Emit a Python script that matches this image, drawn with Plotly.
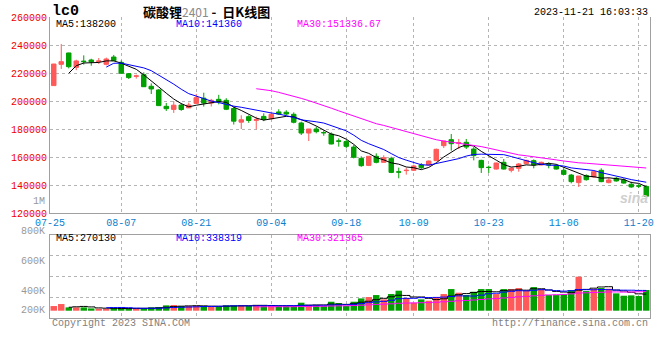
import plotly.graph_objects as go

# ---------------- data ----------------
dates = ["07-25", "07-26", "07-27", "07-28", "07-31",
         "08-01", "08-02", "08-03", "08-04", "08-07", "08-08", "08-09", "08-10", "08-11",
         "08-14", "08-15", "08-16", "08-17", "08-18", "08-21", "08-22", "08-23", "08-24", "08-25",
         "08-28", "08-29", "08-30", "08-31", "09-01", "09-04", "09-05", "09-06", "09-07", "09-08",
         "09-11", "09-12", "09-13", "09-14", "09-15", "09-18", "09-19", "09-20", "09-21", "09-22",
         "09-25", "09-26", "09-27", "09-28", "10-09", "10-10", "10-11", "10-12", "10-13",
         "10-16", "10-17", "10-18", "10-19", "10-20", "10-23", "10-24", "10-25", "10-26", "10-27",
         "10-30", "10-31", "11-01", "11-02", "11-03", "11-06", "11-07", "11-08", "11-09", "11-10",
         "11-13", "11-14", "11-15", "11-16", "11-17", "11-20", "11-21"]

open_ = [211000, 226200, 234300, 224000, 228500, 229300, 228200, 226200, 231400, 227600,
         219500, 217700, 218800, 210500, 207900, 196200, 194000, 197100, 195100, 198300,
         202000, 198500, 201200, 200500, 194600, 184900, 188800, 186200, 189000, 187300,
         192200, 192000, 190500, 184300, 177100, 180000, 177500, 176400, 171500, 171000,
         167100, 159000, 154000, 160500, 156200, 159000, 149400, 150300, 150500, 154300,
         154300, 157400, 168100, 172400, 169800, 170500, 165700, 157600, 152700, 151400,
         156200, 150500, 151900, 155200, 157400, 154300, 154500, 153800, 150500, 147100,
         141700, 146700, 145700, 150500, 141700, 144800, 143600, 140500, 139400, 139000]
high = [226500, 240700, 234500, 229500, 232600, 230200, 230700, 231000, 232900, 229000,
        220000, 218800, 220500, 212600, 208500, 198600, 200000, 198500, 198800, 205100,
        205900, 201500, 204400, 202000, 195900, 189800, 189800, 188800, 191200, 192400,
        194100, 193400, 191900, 185200, 180000, 181700, 179000, 177600, 173300, 172100,
        168600, 160500, 160500, 162600, 161200, 160200, 152400, 152400, 154500, 155700,
        157500, 166000, 171500, 176400, 172900, 172900, 167100, 158000, 153800, 156000,
        158600, 152100, 155700, 158000, 158300, 156700, 156200, 154800, 151900, 147900,
        146400, 147600, 150500, 151900, 145200, 145700, 144800, 142400, 140700, 139500]
low = [210900, 222900, 223300, 222000, 226000, 225200, 226400, 225500, 228600, 219600,
       215700, 216000, 210000, 205000, 196500, 192900, 191500, 193000, 195000, 198000,
       196000, 196100, 197600, 193500, 183200, 180000, 184400, 179800, 185600, 187000,
       190000, 190000, 184000, 175700, 171400, 176900, 175200, 169000, 167400, 166200,
       159000, 153000, 153500, 155500, 156000, 148500, 144800, 147400, 150000, 151400,
       154000, 157000, 166400, 164500, 165700, 165700, 157600, 148600, 148600, 151000,
       151000, 149000, 149500, 154800, 151900, 154000, 151900, 151000, 147200, 141200,
       138600, 143100, 145000, 142000, 141200, 142400, 141000, 138000, 137800, 131600]
close = [226400, 228100, 224500, 228600, 228100, 227900, 228600, 230000, 228800, 219800,
         216700, 217900, 210200, 208600, 196700, 194500, 197000, 193900, 197100, 202400,
         198500, 200500, 199500, 194100, 185600, 186600, 186100, 186600, 186800, 190500,
         190700, 190700, 184800, 177100, 180000, 178100, 177300, 169300, 171300, 167600,
         159800, 153800, 160500, 156200, 159500, 149000, 149200, 150500, 153600, 152400,
         157100, 165500, 171400, 169500, 170200, 167100, 161000, 152400, 152500, 155700,
         151400, 152100, 155000, 157600, 154300, 156200, 154300, 151400, 147600, 142400,
         146400, 143800, 149500, 142400, 143600, 142900, 141400, 138600, 139200, 132000]
volume = [77000, 110000, 55000, 55000, 55000, 38000, 28000, 33000, 44000, 38000,
          38000, 38000, 38000, 55000, 60000, 88000, 94000, 77000, 77000, 77000,
          77000, 66000, 66000, 88000, 88000, 94000, 77000, 94000, 88000, 77000,
          77000, 77000, 77000, 132000, 94000, 94000, 77000, 148000, 126000, 77000,
          148000, 203000, 225000, 258000, 187000, 275000, 330000, 209000, 132000, 187000,
          165000, 225000, 275000, 357000, 297000, 258000, 313000, 357000, 357000, 275000,
          357000, 357000, 374000, 330000, 390000, 357000, 258000, 258000, 275000, 341000,
          561000, 324000, 357000, 374000, 363000, 286000, 247000, 253000, 242000, 341000]
# the two sessions before 07-25 (contract listed 07-21), used only by the moving averages
prior_close = [201600, 218400]
prior_volume = [20000, 25000]

tick_dates = ["07-25", "08-07", "08-21", "09-04", "09-18", "10-09", "10-23", "11-06", "11-20"]
price_ticks = [120000, 140000, 160000, 180000, 200000, 220000, 240000, 260000]
vol_tick_labels = ["1M", "800K", "600K", "400K", "200K"]

symbol = "lc0"
title_name = "碳酸锂"
title_code = "2401"
title_tail = " -  日K线图"
timestamp = "2023-11-21 16:03:33"
price_ma_labels = ["MA5:138200", "MA10:141360", "MA30:151336.67"]
vol_ma_labels = ["MA5:270130", "MA10:338319", "MA30:321365"]
copyright_text = "Copyright 2023 SINA.COM"
url_text = "http://finance.sina.com.cn"


# ---------------- helpers ----------------
def sma(values, prior, n):
    ext = list(prior) + list(values)
    k = len(prior)
    out = []
    for i in range(len(values)):
        j = i + k
        if j + 1 < n:
            out.append(None)
        else:
            out.append(sum(ext[j + 1 - n:j + 1]) / n)
    return out


W, H = 660, 360
L, R, T, B = 50, 10, 17, 42
PW, PH = W - L - R, H - T - B


def px_x(px):
    return (px - L) / PW


def px_y(py):
    return (H - B - py) / PH


RED = "#ff5a5a"
GREEN = "#00a000"
GRID = "#b4b4b4"
FRAME = "#a0a0a0"
MONO = "Liberation Mono"

x = list(range(len(dates)))
ma_colors = ["#000000", "#0000ff", "#ff00ff"]
ma_periods = [5, 10, 30]

fig = go.Figure()

fig.add_trace(go.Candlestick(
    x=x, open=open_, high=high, low=low, close=close,
    increasing=dict(line=dict(color=RED, width=1), fillcolor=RED),
    decreasing=dict(line=dict(color=GREEN, width=1), fillcolor=GREEN),
    whiskerwidth=0, xaxis="x", yaxis="y", showlegend=False, hoverinfo="skip"))

for n, col in zip(ma_periods, ma_colors):
    fig.add_trace(go.Scatter(x=x, y=sma(close, prior_close, n), mode="lines",
                             line=dict(color=col, width=1), xaxis="x", yaxis="y",
                             showlegend=False, hoverinfo="skip", connectgaps=False))

bar_colors = [RED if c >= o else GREEN for o, c in zip(open_, close)]
fig.add_trace(go.Bar(x=x, y=volume, marker=dict(color=bar_colors, line=dict(width=0)),
                     xaxis="x2", yaxis="y2", showlegend=False, hoverinfo="skip"))

for n, col in zip(ma_periods, ma_colors):
    fig.add_trace(go.Scatter(x=x, y=sma(volume, prior_volume, n), mode="lines",
                             line=dict(color=col, width=1, shape="hvh"), xaxis="x2", yaxis="y2",
                             showlegend=False, hoverinfo="skip"))

tickvals = [dates.index(d) for d in tick_dates]
tickvals[0] = -0.5  # first label sits on the left frame

# volume axis: zero line 7 px above the panel bottom, ~16.5K per pixel
vol_px = 16500
vol_lo = -7.3 * vol_px
vol_hi = 76.0 * vol_px
vol_grid = [vol_lo + (vol_hi - vol_lo) * k / 4 for k in (1, 2, 3)]

main_bottom = px_y(213)
vol_top = px_y(234.7)

fig.update_layout(
    width=W, height=H, margin=dict(l=L, r=R, t=T, b=B, autoexpand=False),
    paper_bgcolor="white", plot_bgcolor="white",
    boxgap=0.15, bargap=0.14,
    xaxis=dict(domain=[0, 1], anchor="y", range=[-0.5, len(dates) - 0.5], automargin=False,
               tickvals=tickvals, ticktext=tick_dates, ticks="",
               tickfont=dict(family=MONO, size=10, color="#0a7fd0"),
               showgrid=True, gridcolor=GRID, griddash="dot", gridwidth=1,
               showline=True, linecolor=FRAME, linewidth=1, mirror=False,
               zeroline=False, rangeslider=dict(visible=False), fixedrange=True),
    yaxis=dict(domain=[main_bottom, 1], anchor="x", range=[price_ticks[0], price_ticks[-1]],
               automargin=False,
               tickvals=price_ticks, ticktext=[str(v) for v in price_ticks], ticks="",
               tickfont=dict(family=MONO, size=10, color="#f00000"),
               showgrid=True, gridcolor=GRID, griddash="dot", gridwidth=1,
               showline=True, linecolor=FRAME, linewidth=1, mirror=True,
               zeroline=False, fixedrange=True),
    xaxis2=dict(domain=[0, 1], anchor="y2", matches="x", range=[-0.5, len(dates) - 0.5],
                automargin=False,
                tickvals=tickvals, showticklabels=False, ticks="",
                showgrid=True, gridcolor=GRID, griddash="dot", gridwidth=1,
                showline=True, linecolor=FRAME, linewidth=1, mirror=True,
                zeroline=False, fixedrange=True),
    yaxis2=dict(domain=[0, vol_top], anchor="x2", range=[vol_lo, vol_hi], automargin=False,
                tickvals=vol_grid, showticklabels=False, ticks="",
                showgrid=True, gridcolor=GRID, griddash="dot", gridwidth=1,
                showline=True, linecolor=FRAME, linewidth=1, mirror=True,
                zeroline=False, fixedrange=True),
)

ann = []


def text(s, xp, yp, xanchor="left", size=10, color="#000000", family=MONO, **kw):
    ann.append(dict(text=s, x=px_x(xp), y=px_y(yp), xref="paper", yref="paper",
                    xanchor=xanchor, yanchor="middle", showarrow=False,
                    font=dict(family=family, size=size, color=color), **kw))


# header
text("<b>" + symbol + "</b>", 50, 11, size=15)
text("<b>" + title_name + "</b><span style='color:#8a8a8a;font-size:12px'>" + title_code +
     "</span><b>" + title_tail + "</b>", 141, 11, size=13, family="Noto Sans CJK SC")
text(timestamp, 650, 12, xanchor="right", size=10)

# MA legends
for s, col, xp in zip(price_ma_labels, ma_colors, [54, 174, 295]):
    text(s, xp, 24, color=col)
for s, col, xp in zip(vol_ma_labels, ma_colors, [54, 174, 295]):
    text(s, xp, 238.5, color=col)

# volume axis labels (drawn by the source at fixed rows)
for s, yp in zip(vol_tick_labels, [201, 231, 261, 291, 310]):
    text(s, 47, yp, xanchor="right", color="#999999")

# footer
text(copyright_text, 50, 323.5, color="#808080")
text(url_text, 650, 323.5, xanchor="right", color="#808080")

# watermark
text("<b><i>sina</i></b>", 650, 198, xanchor="right", size=14, color="#cfcfcf",
     family="Liberation Sans")

fig.update_layout(annotations=ann)

fig.write_html("out.html", config={"displayModeBar": False},
               post_script="document.body.style.margin='0';document.body.style.overflow='hidden';")
